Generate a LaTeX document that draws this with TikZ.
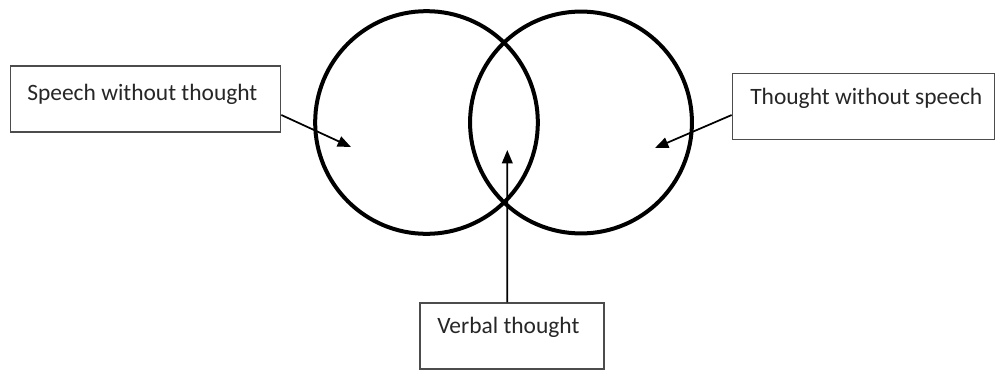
\documentclass[tikz,border=0pt]{standalone}
\usepackage{fontspec}
\setmainfont{Carlito}
\usetikzlibrary{arrows.meta}
\begin{document}
\begin{tikzpicture}[x=0.75pt,y=-0.75pt,font=\fontsize{17.6}{20}\selectfont,
  ring/.style={draw, line width=3pt},
  labelbox/.style={draw=black!70, line width=0.8pt, inner sep=0pt},
  boxtext/.style={anchor=base west, inner sep=0pt, text=black!85},
  pointer/.style={-{Triangle[length=10pt,width=8pt]}, line width=1.3pt}]
  \useasboundingbox (0,0) rectangle (996,372);
  % the two circles
  \draw[ring] (426.5,122.5) circle[radius=83.5pt];
  \draw[ring] (581,122.5) circle[radius=83.2pt];
  % boxes
  \node[labelbox, minimum width=203pt, minimum height=49.5pt] (lbox) at (145.5,99) {};
  \node[labelbox, minimum width=197pt, minimum height=50pt] (rbox) at (863.5,106.5) {};
  \node[labelbox, minimum width=138pt, minimum height=49.5pt] (vbox) at (512,336) {};
  \node[boxtext] (ltext) at (27,100) {Speech without thought};
  \node[boxtext] (rtext) at (750,104) {Thought without speech};
  \node[boxtext] (vtext) at (437,333) {Verbal thought};
  % arrow tips
  \coordinate (ltip) at (351,147);
  \coordinate (rtip) at (655,148);
  \coordinate (vtip) at (507.3,150);
  \draw[pointer] ([yshift=-12pt]lbox.east) -- (ltip);
  \draw[pointer] ([yshift=-6.4pt]rbox.west) -- (rtip);
  \draw[pointer] ([xshift=-3.5pt]vbox.north) -- (vtip);
\end{tikzpicture}
\end{document}
